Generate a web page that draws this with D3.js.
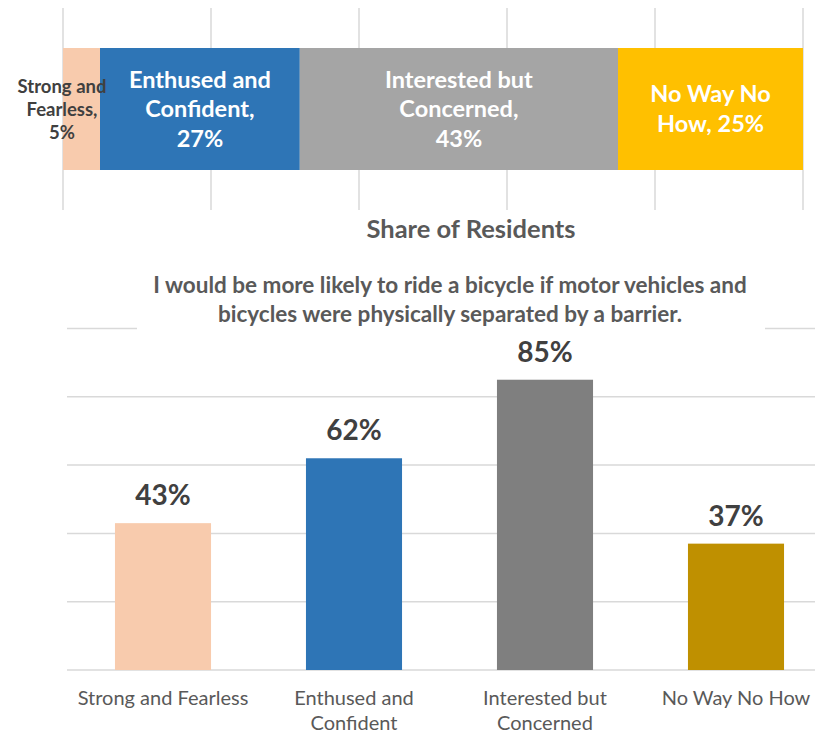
<!DOCTYPE html>
<html>
<head>
<meta charset="utf-8">
<script src="https://cdn.jsdelivr.net/npm/d3@7/dist/d3.min.js"></script>
<style>
  body { margin: 0; background: #fff; }
  svg { display: block; font-family: Lato, "Open Sans", sans-serif; }
</style>
</head>
<body>
<div id="chart"></div>
<script>
(function () {
    'use strict';

    // top chart: share of residents per type
    var shareTypes = ['Strong and Fearless', 'Enthused and Confident', 'Interested but Concerned', 'No Way No How'];
    var shareValues = [5, 27, 43, 25];
    var shareLabels = [
        ['Strong and', 'Fearless,', '5%'],
        ['Enthused and', 'Confident,', '27%'],
        ['Interested but', 'Concerned,', '43%'],
        ['No Way No', 'How, 25%']
    ];
    var shareColors = ['#F8CBAD', '#2E75B6', '#A5A5A5', '#FFC000'];
    var shareTicks = [0, 20, 40, 60, 80, 100];

    // bottom chart: likely to ride with a barrier
    var barCategories = ['Strong and Fearless', 'Enthused and Confident', 'Interested but Concerned', 'No Way No How'];
    var barValues = [43, 62, 85, 37];
    var barCatLines = [
        ['Strong and Fearless'],
        ['Enthused and', 'Confident'],
        ['Interested but', 'Concerned'],
        ['No Way No How']
    ];
    var barColors = ['#F8CBAD', '#2E75B6', '#7F7F7F', '#BF9000'];
    var barTicks = [0, 20, 40, 60, 80, 100];
    var titleLines = [
        'I would be more likely to ride a bicycle if motor vehicles and',
        'bicycles were physically separated by a barrier.'
    ];

    var width = 815, height = 734;
    var svg = d3.select('#chart').append('svg')
        .attr('width', width)
        .attr('height', height);

    // ---- top stacked bar ----
    var x = d3.scaleLinear().domain([0, 100]).range([63, 803]);
    var top = svg.append('g');

    top.selectAll('.vgrid')
        .data(shareTicks)
        .enter()
        .append('line')
        .attr('class', 'vgrid')
        .attr('x1', function (d) { return x(d); })
        .attr('x2', function (d) { return x(d); })
        .attr('y1', 8)
        .attr('y2', 210)
        .style('stroke', '#D9D9D9')
        .style('stroke-width', '1.5px');

    var cum = d3.cumsum(shareValues);
    var segs = shareValues.map(function (v, i) {
        return { type: shareTypes[i], x0: cum[i] - v, x1: cum[i], lines: shareLabels[i], color: shareColors[i] };
    });

    top.selectAll('.seg')
        .data(segs)
        .enter()
        .append('rect')
        .attr('class', 'seg')
        .attr('x', function (d) { return x(d.x0); })
        .attr('width', function (d) { return x(d.x1) - x(d.x0); })
        .attr('y', 48)
        .attr('height', 122)
        .attr('fill', function (d) { return d.color; });

    var segText = top.selectAll('.seglabel')
        .data(segs)
        .enter()
        .append('text')
        .attr('class', 'seglabel')
        .attr('text-anchor', 'middle')
        .style('font-weight', 'bold')
        .attr('fill', function (d, i) { return i === 0 ? '#404040' : '#FFFFFF'; })
        .style('font-size', function (d, i) { return i === 0 ? '18.5px' : '23.5px'; });

    segText.each(function (d, i) {
        var small = i === 0;
        var cx = small ? 62 : (x(d.x0) + x(d.x1)) / 2;
        var lh = small ? 23 : 29.5;
        var n = d.lines.length;
        var y0 = 109 - (n - 1) * lh / 2 + (small ? 6.5 : 8);
        d3.select(this).selectAll('tspan')
            .data(d.lines)
            .enter()
            .append('tspan')
            .attr('x', cx)
            .attr('y', function (t, j) { return y0 + j * lh; })
            .text(function (t) { return t; });
    });

    svg.append('text')
        .attr('x', 471)
        .attr('y', 238)
        .attr('text-anchor', 'middle')
        .style('font-weight', 'bold')
        .style('font-size', '25.5px')
        .attr('fill', '#595959')
        .text('Share of Residents');

    // ---- bottom column chart ----
    var bx = d3.scaleBand().domain(barCategories).range([67.5, 831.5]).paddingInner(0.497).paddingOuter(0.2485);
    var by = d3.scaleLinear().domain([0, 100]).range([670, 328.5]);
    var bottom = svg.append('g');

    bottom.selectAll('.hgrid')
        .data(barTicks)
        .enter()
        .append('line')
        .attr('class', 'hgrid')
        .attr('x1', 67)
        .attr('x2', 831)
        .attr('y1', function (d) { return by(d); })
        .attr('y2', function (d) { return by(d); })
        .style('stroke', '#D9D9D9')
        .style('stroke-width', '1.5px');

    // title box hides the top gridline
    bottom.append('rect')
        .attr('x', 137).attr('y', 268)
        .attr('width', 628).attr('height', 66)
        .attr('fill', '#fff');

    bottom.append('text')
        .attr('text-anchor', 'middle')
        .style('font-weight', 'bold')
        .style('font-size', '22.5px')
        .attr('fill', '#595959')
        .selectAll('tspan')
        .data(titleLines)
        .enter()
        .append('tspan')
        .attr('x', 450)
        .attr('y', function (d, i) { return 293 + i * 29; })
        .text(function (d) { return d; });

    bottom.selectAll('.bar')
        .data(barValues)
        .enter()
        .append('rect')
        .attr('class', 'bar')
        .attr('x', function (d, i) { return bx(barCategories[i]); })
        .attr('width', bx.bandwidth())
        .attr('y', function (d) { return by(d); })
        .attr('height', function (d) { return by(0) - by(d); })
        .attr('fill', function (d, i) { return barColors[i]; });

    bottom.selectAll('.val')
        .data(barValues)
        .enter()
        .append('text')
        .attr('class', 'val')
        .attr('text-anchor', 'middle')
        .attr('x', function (d, i) { return bx(barCategories[i]) + bx.bandwidth() / 2; })
        .attr('y', function (d) { return by(d) - 18; })
        .style('font-weight', 'bold')
        .style('font-size', '28px')
        .attr('fill', '#404040')
        .text(function (d) { return d + '%'; });

    var cat = bottom.selectAll('.cat')
        .data(barCatLines)
        .enter()
        .append('text')
        .attr('class', 'cat')
        .attr('text-anchor', 'middle')
        .style('font-size', '20px')
        .attr('fill', '#595959');

    cat.each(function (lines, i) {
        var cx = bx(barCategories[i]) + bx.bandwidth() / 2;
        d3.select(this).selectAll('tspan')
            .data(lines)
            .enter()
            .append('tspan')
            .attr('x', cx)
            .attr('y', function (t, j) { return 705 + j * 25; })
            .text(function (t) { return t; });
    });
}());
</script>
</body>
</html>
